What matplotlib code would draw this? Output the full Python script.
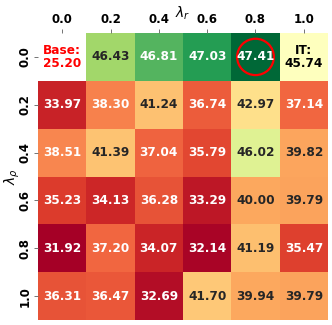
import numpy as np
import matplotlib
matplotlib.use("Agg")
import matplotlib.pyplot as plt
from matplotlib.colors import TwoSlopeNorm
from matplotlib.patches import Circle

lambda_r = ["0.0", "0.2", "0.4", "0.6", "0.8", "1.0"]
lambda_rho = ["0.0", "0.2", "0.4", "0.6", "0.8", "1.0"]

row_00 = [np.nan, 46.43, 46.81, 47.03, 47.41, 45.74]
row_02 = [33.97, 38.30, 41.24, 36.74, 42.97, 37.14]
row_04 = [38.51, 41.39, 37.04, 35.79, 46.02, 39.82]
row_06 = [35.23, 34.13, 36.28, 33.29, 40.00, 39.79]
row_08 = [31.92, 37.20, 34.07, 32.14, 41.19, 35.47]
row_10 = [36.31, 36.47, 32.69, 41.70, 39.94, 39.79]

base_value = 25.20
it_value = 45.74
best_cell = (0, 4)

data = np.array([row_00, row_02, row_04, row_06, row_08, row_10])
masked = np.ma.masked_invalid(data)

fig = plt.figure(figsize=(3.32, 3.25), dpi=100)
ax = fig.add_axes([38/332, 5/325, 290/332, 287/325])

vmin = np.nanmin(data)
vmax = np.nanmax(data)
norm = TwoSlopeNorm(vmin=vmin, vcenter=it_value, vmax=vmax)
cmap = plt.get_cmap("RdYlGn")
mesh = ax.pcolormesh(masked, cmap=cmap, norm=norm)
ax.set_xlim(0, 6)
ax.set_ylim(6, 0)

def lum(c):
    rgb = np.array(c[:3])
    rgb = np.where(rgb <= .03928, rgb / 12.92, ((rgb + .055) / 1.055) ** 2.4)
    return rgb.dot([.2126, .7152, .0722])

ann_fs = 8.7
for i in range(data.shape[0]):
    for j in range(data.shape[1]):
        v = data[i, j]
        if np.isnan(v):
            continue
        col = cmap(norm(v))
        tc = ".15" if lum(col) > .408 else "w"
        if (i, j) == (0, 5):
            ax.text(j + 0.5, i + 0.5, f"IT:\n{v:.2f}", ha="center", va="center",
                    fontsize=ann_fs, fontweight="bold", color="black", linespacing=1.0)
        else:
            ax.text(j + 0.5, i + 0.5, f"{v:.2f}", ha="center", va="center",
                    fontsize=ann_fs, fontweight="bold", color=tc)

ax.text(0.5, 0.5, f"Base:\n{base_value:.2f}", ha="center", va="center",
        fontsize=ann_fs, fontweight="bold", color="red", linespacing=1.0)

ax.add_patch(Circle((best_cell[1] + 0.5, best_cell[0] + 0.5), 0.38,
                    fill=False, edgecolor="red", linewidth=1.6))

ax.xaxis.tick_top()
ax.xaxis.set_label_position("top")
ax.set_xticks(np.arange(6) + 0.5)
ax.set_yticks(np.arange(6) + 0.5)
ax.set_xticklabels(lambda_r, fontsize=8.5, fontweight="bold")
ax.set_yticklabels(lambda_rho, fontsize=8.5, fontweight="bold", rotation=90, va="center")
ax.tick_params(axis="both", length=3, width=0.7, color="0.45", pad=2)
ax.tick_params(axis="y", pad=1.5)
ax.set_xlabel(r"$\lambda_r$", fontsize=10, va="center")
ax.set_ylabel(r"$\lambda_\rho$", fontsize=10, va="center")
ax.xaxis.set_label_coords(0.5, 1.07)
ax.yaxis.set_label_coords(-0.088, 0.5)
for s in ax.spines.values():
    s.set_visible(False)

fig.savefig("out.png", dpi=100)
